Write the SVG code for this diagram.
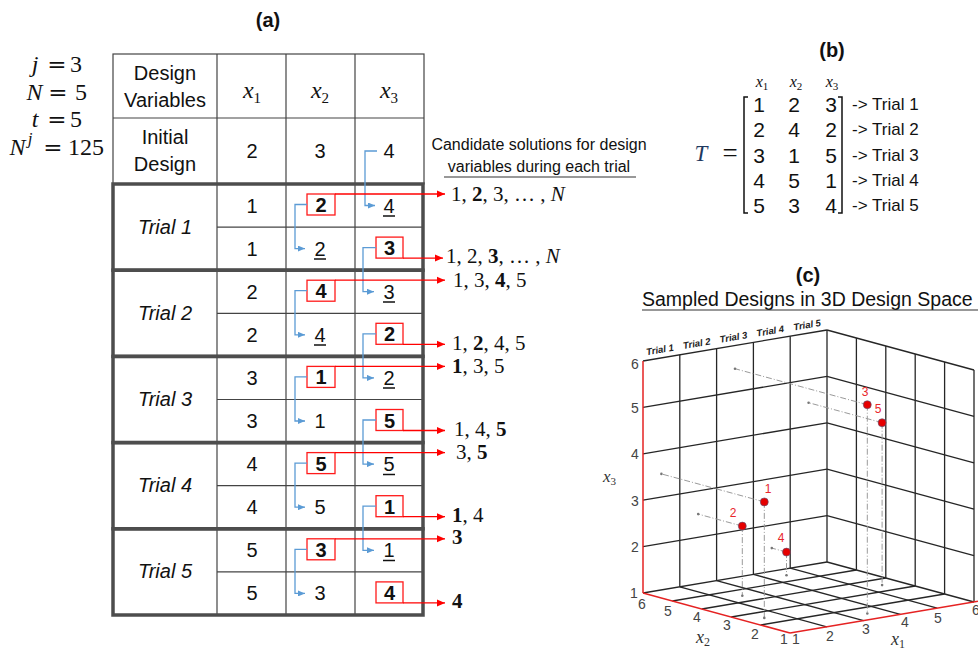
<svg xmlns="http://www.w3.org/2000/svg" width="978" height="650" viewBox="0 0 978 650">
<defs>
<marker id="ar" markerWidth="8" markerHeight="8" refX="8" refY="4" orient="auto" markerUnits="userSpaceOnUse"><path d="M0,0.5 L8,4 L0,7.5 z" fill="#ff0000"/></marker>
<marker id="ab" markerWidth="7" markerHeight="6" refX="7" refY="3" orient="auto" markerUnits="userSpaceOnUse"><path d="M0,0 L7,3 L0,6 z" fill="#5b9bd5"/></marker>
<style>
.s{font-family:"Liberation Sans",Arial,sans-serif;fill:#111}
.c{font-size:20px;text-anchor:middle}
.b{font-weight:bold}
.it{font-style:italic}
.m{font-family:"Liberation Serif","Times New Roman",serif;fill:#111}
.eq{font-family:"DejaVu Serif",serif;fill:#111;text-anchor:middle}
.thin{stroke:#444;stroke-width:1.2;fill:none}
.thick{stroke:#4d4d4d;stroke-width:3.5;fill:none}
.rbox{stroke:#ff1a1a;stroke-width:1.3;fill:none}
.rl{stroke:#ff0000;stroke-width:1.3;fill:none;marker-end:url(#ar)}
.bl{stroke:#5b9bd5;stroke-width:1.3;fill:none;marker-end:url(#ab)}
.ul{stroke:#111;stroke-width:1.5}
.cand{font-family:"Liberation Serif","Times New Roman",serif;font-size:21px;fill:#111}
.g{stroke:#262626;stroke-width:1.3;fill:none}
.red{stroke:#e52222;stroke-width:1.5;fill:none}
.proj{stroke:#9a9a9a;stroke-width:1;fill:none;stroke-dasharray:6 2 1 2}
.pt{fill:#e60000;stroke:#55557a;stroke-width:0.6}
.pl{font-family:"Liberation Sans",Arial,sans-serif;font-size:12px;fill:#e8262b;text-anchor:middle}
.ax{font-family:"Liberation Sans",Arial,sans-serif;font-size:14px;fill:#444;text-anchor:middle}
.tl{font-family:"Liberation Sans",Arial,sans-serif;font-size:9.5px;font-weight:bold;font-style:italic;fill:#222;text-anchor:middle}
.mx{font-family:"Liberation Serif","Times New Roman",serif;font-style:italic;fill:#111}
.sub{font-style:normal}
</style>
</defs>
<rect width="978" height="650" fill="#fff"/>

<!-- ================= (a) ================= -->
<text class="s b" x="268" y="27" font-size="20" text-anchor="middle">(a)</text>

<g id="params">
<text class="mx" x="35" y="72" font-size="24" text-anchor="middle">j</text>
<text class="eq" x="57" y="72" font-size="23">=</text>
<text class="m" x="76" y="72" font-size="24" text-anchor="middle">3</text>
<text class="mx" x="34.5" y="100" font-size="24" text-anchor="middle">N</text>
<text class="eq" x="58" y="100" font-size="23">=</text>
<text class="m" x="81" y="100" font-size="24" text-anchor="middle">5</text>
<text class="mx" x="35" y="127" font-size="24" text-anchor="middle">t</text>
<text class="eq" x="57" y="127" font-size="23">=</text>
<text class="m" x="76" y="127" font-size="24" text-anchor="middle">5</text>
<text class="mx" x="17.5" y="155" font-size="24" text-anchor="middle">N</text>
<text class="mx" x="30" y="144" font-size="17" text-anchor="middle">j</text>
<text class="eq" x="53" y="155" font-size="23">=</text>
<text class="m" x="86" y="155" font-size="24" text-anchor="middle">125</text>
</g>

<g id="table-frame">
<rect class="thin" x="113" y="54" width="311" height="130"/>
<line class="thin" x1="113" y1="118" x2="424" y2="118"/>
<line class="thin" x1="217" y1="54" x2="217" y2="615"/>
<line class="thin" x1="286" y1="54" x2="286" y2="615"/>
<line class="thin" x1="355" y1="54" x2="355" y2="615"/>
<line class="thin" x1="217" y1="227.1" x2="424" y2="227.1"/>
<line class="thin" x1="217" y1="313.3" x2="424" y2="313.3"/>
<line class="thin" x1="217" y1="399.5" x2="424" y2="399.5"/>
<line class="thin" x1="217" y1="485.7" x2="424" y2="485.7"/>
<line class="thin" x1="217" y1="571.9" x2="424" y2="571.9"/>
<rect class="thick" x="113" y="184" width="310" height="86.2"/>
<rect class="thick" x="113" y="270.2" width="310" height="86.2"/>
<rect class="thick" x="113" y="356.4" width="310" height="86.2"/>
<rect class="thick" x="113" y="442.6" width="310" height="86.2"/>
<rect class="thick" x="113" y="528.8" width="310" height="86.2"/>
</g>

<g id="header-row">
<text class="s c" x="165" y="80">Design</text>
<text class="s c" x="165" y="107">Variables</text>
<text class="mx" x="252" y="98" font-size="24" text-anchor="middle">x<tspan class="sub" font-size="15" dy="5">1</tspan></text>
<text class="mx" x="320" y="98" font-size="24" text-anchor="middle">x<tspan class="sub" font-size="15" dy="5">2</tspan></text>
<text class="mx" x="389" y="98" font-size="24" text-anchor="middle">x<tspan class="sub" font-size="15" dy="5">3</tspan></text>
</g>

<g id="initial-row">
<text class="s c" x="165" y="144">Initial</text>
<text class="s c" x="165" y="171">Design</text>
<text class="s c" x="252" y="158">2</text>
<text class="s c" x="320" y="158">3</text>
<text class="s c" x="389" y="158">4</text>
</g>

<g id="trial-1">
<text class="s c it" x="165" y="234">Trial 1</text>
<text class="s c" x="252" y="212.5">1</text>
<rect class="rbox" x="307" y="194" width="28" height="21"/>
<text class="s c b" x="321" y="212">2</text>
<text class="s c" x="389" y="212.5">4</text><line class="ul" x1="383" y1="216" x2="395" y2="216"/>
<text class="s c" x="252" y="255.6">1</text>
<text class="s c" x="320" y="255.6">2</text><line class="ul" x1="314" y1="259" x2="326" y2="259"/>
<rect class="rbox" x="376" y="237.1" width="27" height="21"/>
<text class="s c b" x="389.5" y="255">3</text>
</g>

<g id="trial-2">
<text class="s c it" x="165" y="320">Trial 2</text>
<text class="s c" x="252" y="298.7">2</text>
<rect class="rbox" x="307" y="280.2" width="28" height="21"/>
<text class="s c b" x="321" y="298.2">4</text>
<text class="s c" x="389" y="298.7">3</text><line class="ul" x1="383" y1="302" x2="395" y2="302"/>
<text class="s c" x="252" y="341.8">2</text>
<text class="s c" x="320" y="341.8">4</text><line class="ul" x1="314" y1="345" x2="326" y2="345"/>
<rect class="rbox" x="376" y="323.3" width="27" height="21"/>
<text class="s c b" x="389.5" y="341.3">2</text>
</g>

<g id="trial-3">
<text class="s c it" x="165" y="406">Trial 3</text>
<text class="s c" x="252" y="384.9">3</text>
<rect class="rbox" x="307" y="366.4" width="28" height="21"/>
<text class="s c b" x="321" y="384.4">1</text>
<text class="s c" x="389" y="384.9">2</text><line class="ul" x1="383" y1="388" x2="395" y2="388"/>
<text class="s c" x="252" y="428">3</text>
<text class="s c" x="320" y="428">1</text>
<rect class="rbox" x="376" y="409.5" width="27" height="21"/>
<text class="s c b" x="389.5" y="427.5">5</text>
</g>

<g id="trial-4">
<text class="s c it" x="165" y="492">Trial 4</text>
<text class="s c" x="252" y="471.1">4</text>
<rect class="rbox" x="307" y="452.6" width="28" height="21"/>
<text class="s c b" x="321" y="470.6">5</text>
<text class="s c" x="389" y="471.1">5</text><line class="ul" x1="383" y1="474.5" x2="395" y2="474.5"/>
<text class="s c" x="252" y="514.2">4</text>
<text class="s c" x="320" y="514.2">5</text>
<rect class="rbox" x="376" y="495.7" width="27" height="21"/>
<text class="s c b" x="389.5" y="513.7">1</text>
</g>

<g id="trial-5">
<text class="s c it" x="165" y="578">Trial 5</text>
<text class="s c" x="252" y="557.3">5</text>
<rect class="rbox" x="307" y="538.8" width="28" height="21"/>
<text class="s c b" x="321" y="556.8">3</text>
<text class="s c" x="389" y="557.3">1</text><line class="ul" x1="383" y1="560.5" x2="395" y2="560.5"/>
<text class="s c" x="252" y="600.4">5</text>
<text class="s c" x="320" y="600.4">3</text>
<rect class="rbox" x="376" y="581.9" width="27" height="21"/>
<text class="s c b" x="389.5" y="599.9">4</text>
</g>

<g id="connectors">
<path class="bl" d="M377,151 H365 V205.5 H375"/>
<path class="bl" d="M307,204.5 H295 V248.6 H305"/>
<path class="bl" d="M376,247.6 H363 V291.7 H374"/>
<path class="bl" d="M307,290.7 H295 V334.8 H305"/>
<path class="bl" d="M376,333.8 H363 V377.9 H374"/>
<path class="bl" d="M307,376.9 H295 V421 H305"/>
<path class="bl" d="M376,420 H363 V464.1 H374"/>
<path class="bl" d="M307,463.1 H295 V507.2 H305"/>
<path class="bl" d="M376,506.2 H363 V550.3 H374"/>
<path class="bl" d="M307,549.3 H295 V593.4 H305"/>
<path class="rl" d="M335,194 H445"/>
<path class="rl" d="M403,258.1 H443"/>
<path class="rl" d="M335,280.2 H445"/>
<path class="rl" d="M403,344.3 H445"/>
<path class="rl" d="M335,366.4 H445"/>
<path class="rl" d="M403,430.5 H445"/>
<path class="rl" d="M335,452.6 H445"/>
<path class="rl" d="M403,516.7 H445"/>
<path class="rl" d="M335,538.8 H445"/>
<path class="rl" d="M403,602.9 H445"/>
</g>

<g id="candidates">
<text class="s" x="539" y="150" font-size="16" text-anchor="middle">Candidate solutions for design</text>
<text class="s" x="539" y="172" font-size="16" text-anchor="middle">variables during each trial</text>
<line x1="444" y1="177" x2="636" y2="177" stroke="#333" stroke-width="1.2"/>
<text class="cand" x="451" y="201">1, <tspan font-weight="bold">2</tspan>, 3, … , <tspan font-style="italic">N</tspan></text>
<text class="cand" x="446" y="263">1, 2, <tspan font-weight="bold">3</tspan>, … , <tspan font-style="italic">N</tspan></text>
<text class="cand" x="453" y="287">1, 3, <tspan font-weight="bold">4</tspan>, 5</text>
<text class="cand" x="452" y="350">1, <tspan font-weight="bold">2</tspan>, 4, 5</text>
<text class="cand" x="452" y="373"><tspan font-weight="bold">1</tspan>, 3, 5</text>
<text class="cand" x="454" y="436">1, 4, <tspan font-weight="bold">5</tspan></text>
<text class="cand" x="456" y="459">3, <tspan font-weight="bold">5</tspan></text>
<text class="cand" x="452" y="522"><tspan font-weight="bold">1</tspan>, 4</text>
<text class="cand" x="452" y="544" font-weight="bold">3</text>
<text class="cand" x="452" y="608" font-weight="bold">4</text>
</g>

<!-- ================= (b) ================= -->
<g id="matrix-b">
<text class="s b" x="832" y="57" font-size="20" text-anchor="middle">(b)</text>
<text class="mx" x="701" y="161" font-size="23" text-anchor="middle" style="fill:#1f3a60">T</text>
<text class="m" x="730" y="162" font-size="27" text-anchor="middle">=</text>
<path d="M748,97 H744 V213 H748" stroke="#111" stroke-width="1.5" fill="none"/>
<path d="M838,97 H842 V213 H838" stroke="#111" stroke-width="1.5" fill="none"/>
<text class="mx" x="762" y="87" font-size="16" text-anchor="middle">x<tspan class="sub" font-size="11" dy="3">1</tspan></text>
<text class="mx" x="796" y="87" font-size="16" text-anchor="middle">x<tspan class="sub" font-size="11" dy="3">2</tspan></text>
<text class="mx" x="832" y="87" font-size="16" text-anchor="middle">x<tspan class="sub" font-size="11" dy="3">3</tspan></text>
<g class="s" font-size="21" text-anchor="middle">
<text x="759" y="112">1</text><text x="794" y="112">2</text><text x="831" y="112">3</text>
<text x="759" y="137.3">2</text><text x="794" y="137.3">4</text><text x="831" y="137.3">2</text>
<text x="759" y="162.5">3</text><text x="794" y="162.5">1</text><text x="831" y="162.5">5</text>
<text x="759" y="187.8">4</text><text x="794" y="187.8">5</text><text x="831" y="187.8">1</text>
<text x="759" y="213">5</text><text x="794" y="213">3</text><text x="831" y="213">4</text>
</g>
<g class="s" font-size="17">
<text x="852" y="110">-&gt; Trial 1</text>
<text x="852" y="135.3">-&gt; Trial 2</text>
<text x="852" y="160.5">-&gt; Trial 3</text>
<text x="852" y="185.8">-&gt; Trial 4</text>
<text x="852" y="211">-&gt; Trial 5</text>
</g>
</g>

<!-- ================= (c) ================= -->
<g id="plot-c">
<text class="s b" x="808" y="282" font-size="20" text-anchor="middle">(c)</text>
<text class="s" x="642" y="306" font-size="19.5">Sampled Designs in 3D Design Space</text>
<line x1="642" y1="310" x2="978" y2="310" stroke="#333" stroke-width="1.2"/>

<g id="grid">
<line class="g" x1="679.8" y1="586.8" x2="679.8" y2="354.8"/>
<line class="g" x1="716.6" y1="580.6" x2="716.6" y2="348.6"/>
<line class="g" x1="753.4" y1="574.4" x2="753.4" y2="342.4"/>
<line class="g" x1="790.2" y1="568.2" x2="790.2" y2="336.2"/>
<line class="g" x1="827" y1="562" x2="827" y2="330"/>
<line class="g" x1="643" y1="546.6" x2="827" y2="515.6"/>
<line class="g" x1="643" y1="500.2" x2="827" y2="469.2"/>
<line class="g" x1="643" y1="453.8" x2="827" y2="422.8"/>
<line class="g" x1="643" y1="407.4" x2="827" y2="376.4"/>
<line class="g" x1="643" y1="361" x2="827" y2="330"/>
<line class="g" x1="643" y1="593" x2="827" y2="562"/>
<line class="g" x1="974" y1="602" x2="974" y2="370"/>
<line class="g" x1="944.6" y1="594" x2="944.6" y2="362"/>
<line class="g" x1="915.2" y1="586" x2="915.2" y2="354"/>
<line class="g" x1="885.8" y1="578" x2="885.8" y2="346"/>
<line class="g" x1="856.4" y1="570" x2="856.4" y2="338"/>
<line class="g" x1="827" y1="562" x2="974" y2="602"/>
<line class="g" x1="827" y1="515.6" x2="974" y2="555.6"/>
<line class="g" x1="827" y1="469.2" x2="974" y2="509.2"/>
<line class="g" x1="827" y1="422.8" x2="974" y2="462.8"/>
<line class="g" x1="827" y1="376.4" x2="974" y2="416.4"/>
<line class="g" x1="827" y1="330" x2="974" y2="370"/>
<line class="g" x1="826.8" y1="626.8" x2="679.8" y2="586.8"/>
<line class="g" x1="863.6" y1="620.6" x2="716.6" y2="580.6"/>
<line class="g" x1="900.4" y1="614.4" x2="753.4" y2="574.4"/>
<line class="g" x1="937.2" y1="608.2" x2="790.2" y2="568.2"/>
<line class="g" x1="760.6" y1="625" x2="944.6" y2="594"/>
<line class="g" x1="731.2" y1="617" x2="915.2" y2="586"/>
<line class="g" x1="701.8" y1="609" x2="885.8" y2="578"/>
<line class="g" x1="672.4" y1="601" x2="856.4" y2="570"/>
<line class="red" x1="643" y1="593" x2="643" y2="361"/>
<line class="red" x1="643" y1="593" x2="790" y2="633"/>
<line class="red" x1="790" y1="633" x2="978" y2="601.3"/>
</g>

<g id="trial-labels">
<g transform="translate(660.4,352.9) rotate(-9.6)"><text class="tl" x="0" y="0">Trial 1</text></g>
<g transform="translate(697.2,346.7) rotate(-9.6)"><text class="tl" x="0" y="0">Trial 2</text></g>
<g transform="translate(734,340.5) rotate(-9.6)"><text class="tl" x="0" y="0">Trial 3</text></g>
<g transform="translate(770.8,334.3) rotate(-9.6)"><text class="tl" x="0" y="0">Trial 4</text></g>
<g transform="translate(807.6,328.1) rotate(-9.6)"><text class="tl" x="0" y="0">Trial 5</text></g>
</g>

<g id="axis-labels">
<text class="ax" x="635" y="369">6</text>
<text class="ax" x="635" y="413">5</text>
<text class="ax" x="635" y="459">4</text>
<text class="ax" x="635" y="506">3</text>
<text class="ax" x="635" y="552">2</text>
<text class="ax" x="634" y="598">1</text>
<text class="ax" x="642" y="609">6</text>
<text class="ax" x="668" y="616">5</text>
<text class="ax" x="697" y="622">4</text>
<text class="ax" x="727" y="630">3</text>
<text class="ax" x="755" y="639">2</text>
<text class="ax" x="784" y="644">1</text>
<text class="ax" x="796" y="644">1</text>
<text class="ax" x="830" y="641">2</text>
<text class="ax" x="866" y="634">3</text>
<text class="ax" x="905" y="627">4</text>
<text class="ax" x="938" y="623">5</text>
<text class="ax" x="976" y="615">6</text>
<text class="mx" x="603" y="482" font-size="17" style="fill:#333">x<tspan class="sub" font-size="11" dy="3">3</tspan></text>
<text class="mx" x="696" y="643" font-size="18" style="fill:#333">x<tspan class="sub" font-size="12" dy="3">2</tspan></text>
<text class="mx" x="891" y="645" font-size="18" style="fill:#333">x<tspan class="sub" font-size="12" dy="3">1</tspan></text>
</g>

<g id="projections">
<path class="proj" d="M764.3,501.9 L661.4,473.9 M764.3,501.9 V617.9"/>
<path class="proj" d="M742.3,526.1 L698.2,514.1 M742.3,526.1 V595.7"/>
<path class="proj" d="M867.3,404.7 L735,368.7 M867.3,404.7 V613.5"/>
<path class="proj" d="M786.5,552.1 L771.8,548.1 M786.5,552.1 V575.3"/>
<path class="proj" d="M882.1,422.7 L808.6,402.7 M882.1,422.7 V585.1"/>
<g fill="#777">
<circle cx="661.4" cy="473.9" r="1.3"/><circle cx="764.3" cy="617.9" r="1.3"/>
<circle cx="698.2" cy="514.1" r="1.3"/><circle cx="742.3" cy="595.7" r="1.3"/>
<circle cx="735" cy="368.7" r="1.3"/><circle cx="867.3" cy="613.5" r="1.3"/>
<circle cx="771.8" cy="548.1" r="1.3"/><circle cx="786.5" cy="575.3" r="1.3"/>
<circle cx="808.6" cy="402.7" r="1.3"/><circle cx="882.1" cy="585.1" r="1.3"/>
</g>
</g>

<g id="points">
<circle class="pt" cx="764.3" cy="501.9" r="4"/><text class="pl" x="768" y="493">1</text>
<circle class="pt" cx="742.3" cy="526.1" r="4"/><text class="pl" x="733" y="517">2</text>
<circle class="pt" cx="867.3" cy="404.7" r="4"/><text class="pl" x="865" y="396">3</text>
<circle class="pt" cx="786.5" cy="552.1" r="4"/><text class="pl" x="781" y="542">4</text>
<circle class="pt" cx="882.1" cy="422.7" r="4"/><text class="pl" x="878" y="413">5</text>
</g>
</g>
</svg>
